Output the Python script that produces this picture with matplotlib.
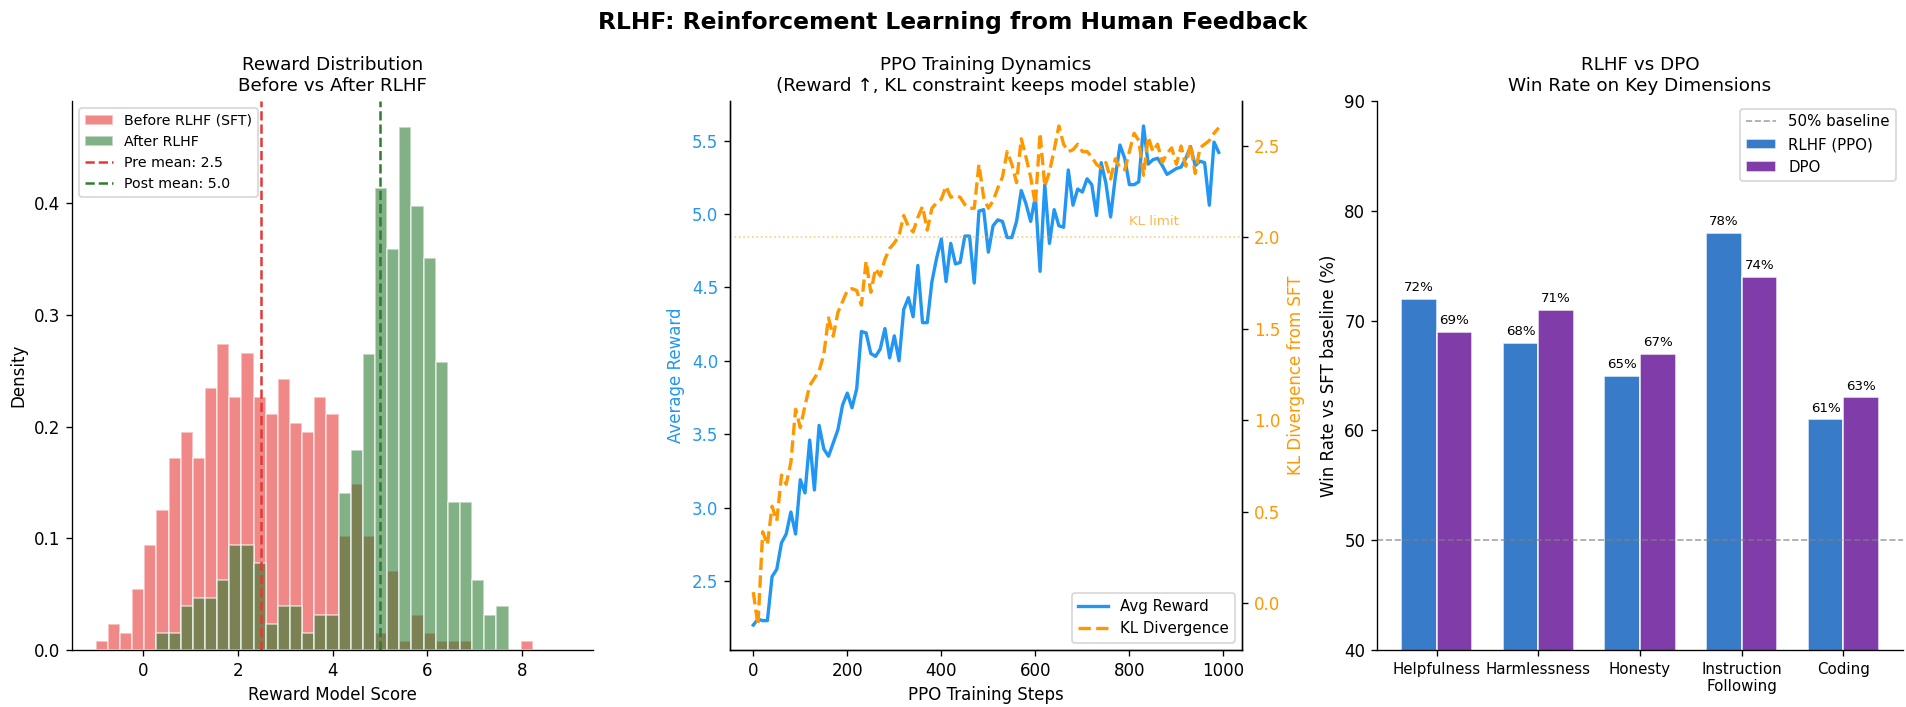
import numpy as np
import matplotlib
matplotlib.use("Agg")
import matplotlib.pyplot as plt

# ---- left panel: reward histograms (counts per bin, 500 samples each) ----
bin_edges = np.linspace(-1, 9, 40)
sft_counts = [1, 3, 2, 7, 12, 16, 22, 25, 22, 30,
              35, 29, 34, 29, 27, 31, 26, 25, 29, 27,
              13, 19, 13, 2, 9, 1, 4, 2, 1, 1,
              1, 0, 0, 0, 0, 1, 0, 0, 0]
rlhf_counts = [0, 0, 0, 0, 0, 2, 2, 5, 6, 6,
               8, 12, 12, 10, 3, 5, 5, 2, 4, 4,
               18, 23, 34, 53, 46, 60, 51, 45, 33, 17,
               17, 8, 4, 5, 0, 0, 0, 0, 0]
pre_mean = 2.5
post_mean = 5.0

# ---- middle panel: PPO training curves ----
steps = np.arange(0, 1000, 10)
avg_reward = [2.20, 2.24, 2.23, 2.23, 2.53, 2.58, 2.76, 2.82, 2.97, 2.82,
              3.19, 3.10, 3.46, 3.12, 3.56, 3.40, 3.35, 3.44, 3.53, 3.70,
              3.78, 3.68, 3.81, 4.20, 4.19, 4.05, 4.03, 4.08, 4.22, 4.02,
              4.17, 4.00, 4.35, 4.43, 4.30, 4.65, 4.26, 4.26, 4.54, 4.70,
              4.83, 4.54, 4.80, 4.66, 4.67, 4.85, 4.85, 4.53, 5.02, 5.03,
              4.74, 4.92, 4.96, 4.95, 4.84, 4.84, 4.95, 5.16, 5.07, 4.95,
              5.12, 4.61, 5.20, 4.80, 5.03, 4.92, 4.91, 5.30, 5.06, 5.17,
              5.15, 5.24, 5.20, 4.99, 5.35, 5.21, 4.98, 5.25, 5.47, 5.38,
              5.20, 5.20, 5.22, 5.60, 5.34, 5.37, 5.38, 5.33, 5.27, 5.29,
              5.31, 5.32, 5.38, 5.46, 5.33, 5.36, 5.35, 5.06, 5.49, 5.42]
kl_div = [0.06, -0.12, 0.39, 0.32, 0.53, 0.45, 0.70, 0.65, 0.77, 1.06,
          0.96, 1.08, 1.19, 1.23, 1.27, 1.36, 1.56, 1.46, 1.59, 1.65,
          1.71, 1.72, 1.71, 1.63, 1.87, 1.70, 1.83, 1.79, 1.88, 1.94,
          1.97, 2.01, 2.12, 2.06, 2.03, 2.11, 2.17, 2.04, 2.16, 2.19,
          2.21, 2.28, 2.22, 2.23, 2.22, 2.18, 2.16, 2.16, 2.40, 2.22,
          2.16, 2.20, 2.27, 2.33, 2.47, 2.40, 2.30, 2.54, 2.44, 2.33,
          2.18, 2.57, 2.28, 2.36, 2.48, 2.61, 2.51, 2.47, 2.48, 2.51,
          2.47, 2.47, 2.44, 2.40, 2.38, 2.41, 2.32, 2.43, 2.38, 2.37,
          2.47, 2.57, 2.53, 2.34, 2.55, 2.47, 2.51, 2.41, 2.46, 2.49,
          2.40, 2.50, 2.39, 2.51, 2.35, 2.49, 2.51, 2.53, 2.57, 2.60]
kl_limit = 2.0

# ---- right panel: win rates ----
dimensions = ["Helpfulness", "Harmlessness", "Honesty", "Instruction\nFollowing", "Coding"]
rlhf_win = [72, 68, 65, 78, 61]
dpo_win = [69, 71, 67, 74, 63]
baseline = 50

RED = "#E53935"
GREEN = "#2E7D32"
BLUE_LINE = "#2196F3"
ORANGE = "#FF9800"
BLUE_BAR = "#1565C0"
PURPLE = "#6A1B9A"

W, H = 1906, 707
fig = plt.figure(figsize=(W / 120, H / 120), dpi=120)

def box(x0, x1, y0=101, y1=650):
    return [x0 / W, 1 - y1 / H, (x1 - x0) / W, (y1 - y0) / H]

ax1 = fig.add_axes(box(72, 593))
ax2 = fig.add_axes(box(730, 1242))
ax3 = fig.add_axes(box(1377, 1903))

# left
centers = (bin_edges[:-1] + bin_edges[1:]) / 2
ax1.hist(centers, bins=bin_edges, weights=sft_counts, density=True, color=RED,
         alpha=0.6, edgecolor="white", label="Before RLHF (SFT)")
ax1.hist(centers, bins=bin_edges, weights=rlhf_counts, density=True, color=GREEN,
         alpha=0.6, edgecolor="white", label="After RLHF")
ax1.axvline(pre_mean, color=RED, ls="--", lw=1.5, label=f"Pre mean: {pre_mean:.1f}")
ax1.axvline(post_mean, color=GREEN, ls="--", lw=1.5, label=f"Post mean: {post_mean:.1f}")
ax1.set_xlabel("Reward Model Score", fontsize=10)
ax1.set_ylabel("Density", fontsize=10)
ax1.set_title("Reward Distribution\nBefore vs After RLHF", fontsize=11)
ax1.legend(loc="upper left", fontsize=8.5)
ax1.spines["top"].set_visible(False)
ax1.spines["right"].set_visible(False)

# middle
l1, = ax2.plot(steps, avg_reward, color=BLUE_LINE, lw=2, label="Avg Reward")
ax2.set_xlabel("PPO Training Steps", fontsize=10)
ax2.set_ylabel("Average Reward", color=BLUE_LINE, fontsize=10)
ax2.tick_params(axis="y", labelcolor=BLUE_LINE)
ax2b = ax2.twinx()
l2, = ax2b.plot(steps, kl_div, color=ORANGE, lw=2, ls="--", label="KL Divergence")
ax2b.axhline(kl_limit, color=ORANGE, ls=":", lw=1, alpha=0.5)
ax2b.text(800, kl_limit + 0.07, "KL limit", color=ORANGE, alpha=0.7, fontsize=8)
ax2b.set_ylabel("KL Divergence from SFT", color=ORANGE, fontsize=10)
ax2b.tick_params(axis="y", labelcolor=ORANGE)
ax2.set_title("PPO Training Dynamics\n(Reward \u2191, KL constraint keeps model stable)", fontsize=11)
ax2.legend([l1, l2], [l1.get_label(), l2.get_label()], loc="lower right", fontsize=9)
ax2.spines["top"].set_visible(False)
ax2b.spines["top"].set_visible(False)

# right
x = np.arange(len(dimensions))
w = 0.35
b1 = ax3.bar(x - w / 2, rlhf_win, w, color=BLUE_BAR, alpha=0.85, edgecolor="white", label="RLHF (PPO)")
b2 = ax3.bar(x + w / 2, dpo_win, w, color=PURPLE, alpha=0.85, edgecolor="white", label="DPO")
ax3.axhline(baseline, color="gray", ls="--", lw=1, alpha=0.7, label="50% baseline")
for bars in (b1, b2):
    for b in bars:
        ax3.text(b.get_x() + b.get_width() / 2, b.get_height() + 0.4, f"{b.get_height():.0f}%",
                 ha="center", va="bottom", fontsize=8)
ax3.set_xticks(x)
ax3.set_xticklabels(dimensions, fontsize=9)
ax3.set_ylim(40, 90)
ax3.set_ylabel("Win Rate vs SFT baseline (%)", fontsize=10)
ax3.set_title("RLHF vs DPO\nWin Rate on Key Dimensions", fontsize=11)
ax3.legend(loc="upper right", fontsize=9)
ax3.spines["top"].set_visible(False)
ax3.spines["right"].set_visible(False)

fig.suptitle("RLHF: Reinforcement Learning from Human Feedback", fontsize=14,
             fontweight="bold", y=0.985)

fig.savefig("out.png", dpi=120)
